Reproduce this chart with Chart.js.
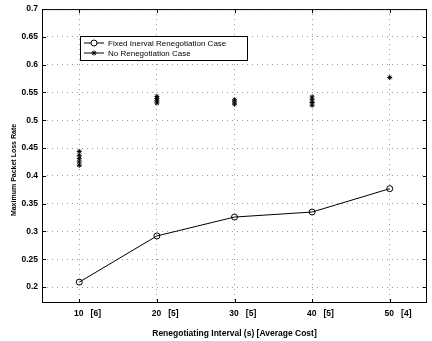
<!DOCTYPE html>
<html>
<head>
<meta charset="utf-8">
<script src="https://cdn.jsdelivr.net/npm/chart.js"></script>
<style>
  html, body { margin: 0; padding: 0; background: #fff; }
  #wrap { width: 432px; height: 341px; position: relative; }
</style>
</head>
<body>
<div id="wrap"><canvas id="chart"></canvas></div>
<script>
// intervals (s) and average cost shown next to each tick
const intervals = [10, 20, 30, 40, 50];
const avgCost = [6, 5, 5, 5, 4];
const yTicks = [0.2, 0.25, 0.3, 0.35, 0.4, 0.45, 0.5, 0.55, 0.6, 0.65, 0.7];

// Fixed interval renegotiation case
const fixedLoss = [0.209, 0.292, 0.326, 0.335, 0.377];

// No renegotiation case (several runs per interval)
const noRenegX = [10, 10, 10, 10, 10, 20, 20, 20, 20, 30, 30, 30, 40, 40, 40, 40, 50];
const noRenegY = [0.419, 0.425, 0.431, 0.437, 0.444, 0.531, 0.535, 0.539, 0.543,
                  0.529, 0.533, 0.537, 0.527, 0.532, 0.537, 0.542, 0.577];

const legendLabels = ['Fixed Inerval Renegotiation Case', 'No Renegotiation Case'];
const yTitle = 'Maximum Packet Loss Rate';

const FONT = '"Liberation Sans", Arial, sans-serif';

// box, inward ticks, y title and legend drawn like the original figure
const framePlugin = {
  id: 'frame',
  afterDraw(chart) {
    const { ctx, chartArea: a, scales } = chart;
    ctx.save();
    ctx.strokeStyle = '#000';
    ctx.lineWidth = 1;
    ctx.strokeRect(a.left + 0.5, a.top + 0.5, a.right - a.left - 1, a.bottom - a.top - 1);
    ctx.beginPath();
    intervals.forEach(v => {
      const x = Math.round(scales.x.getPixelForValue(v)) + 0.5;
      ctx.moveTo(x, a.bottom); ctx.lineTo(x, a.bottom - 4);
      ctx.moveTo(x, a.top); ctx.lineTo(x, a.top + 4);
    });
    yTicks.forEach(v => {
      const y = Math.round(scales.y.getPixelForValue(v)) + 0.5;
      ctx.moveTo(a.left, y); ctx.lineTo(a.left + 4, y);
      ctx.moveTo(a.right, y); ctx.lineTo(a.right - 4, y);
    });
    ctx.stroke();

    // y axis title
    ctx.save();
    ctx.translate(14, 170);
    ctx.rotate(-Math.PI / 2);
    ctx.fillStyle = '#000';
    ctx.font = 'bold 7px ' + FONT;
    ctx.textAlign = 'center';
    ctx.textBaseline = 'middle';
    ctx.fillText(yTitle, 0, 0);
    ctx.restore();

    // legend
    const lx = 80, ly = 36, lw = 167, lh = 24;
    ctx.fillStyle = '#fff';
    ctx.fillRect(lx, ly, lw, lh);
    ctx.strokeRect(lx + 0.5, ly + 0.5, lw, lh);
    ctx.font = '8px ' + FONT;
    ctx.textBaseline = 'middle';
    ctx.textAlign = 'left';
    chart.data.datasets.forEach((ds, i) => {
      const y = ly + 7 + i * 10;
      ctx.beginPath();
      ctx.moveTo(lx + 4, y); ctx.lineTo(lx + 24, y);
      ctx.stroke();
      Chart.helpers.drawPoint(ctx, {
        pointStyle: ds.pointStyle, radius: i === 0 ? 3 : 2.5, borderWidth: 1
      }, lx + 14, y);
      ctx.fillStyle = '#000';
      ctx.fillText(legendLabels[i], lx + 28, y + 0.5);
      ctx.fillStyle = '#fff';
    });
    ctx.restore();
  }
};

new Chart(document.getElementById('chart'), {
  type: 'scatter',
  data: {
    datasets: [
      {
        label: legendLabels[0],
        data: intervals.map((x, i) => ({ x, y: fixedLoss[i] })),
        showLine: true,
        borderColor: '#000',
        borderWidth: 1,
        pointStyle: 'circle',
        pointRadius: 3,
        pointBackgroundColor: 'rgba(255,255,255,0)',
        pointBorderColor: '#000',
        pointBorderWidth: 1
      },
      {
        label: legendLabels[1],
        data: noRenegX.map((x, i) => ({ x, y: noRenegY[i] })),
        showLine: false,
        borderColor: '#000',
        pointStyle: 'star',
        pointRadius: 2.5,
        pointBorderColor: '#000',
        pointBorderWidth: 1
      }
    ]
  },
  options: {
    responsive: true,
    maintainAspectRatio: false,
    animation: false,
    layout: { padding: { top: 7, right: 2, left: 0, bottom: 0 } },
    plugins: { legend: { display: false }, tooltip: { enabled: false } },
    scales: {
      x: {
        type: 'linear',
        min: 5.2,
        max: 54.8,
        afterBuildTicks: axis => { axis.ticks = intervals.map(v => ({ value: v })); },
        afterFit: axis => { axis.height = 38; },
        grid: { color: '#999', drawTicks: false, lineWidth: 1 },
        border: { display: false, dash: [1, 4] },
        ticks: {
          color: '#000',
          font: { family: FONT, size: 8.5, weight: 'bold' },
          padding: 6,
          maxRotation: 0,
          callback: v => {
            const i = intervals.indexOf(v);
            return '       ' + v + '   [' + avgCost[i] + ']';
          }
        },
        title: {
          display: true,
          text: 'Renegotiating Interval (s) [Average Cost]',
          color: '#000',
          font: { family: FONT, size: 8.5, weight: 'bold' },
          padding: { top: 0, bottom: 2 }
        }
      },
      y: {
        min: 0.1714,
        max: 0.7,
        afterBuildTicks: axis => { axis.ticks = yTicks.map(v => ({ value: v })); },
        afterFit: axis => { axis.width = 42; },
        grid: { color: '#999', drawTicks: false, lineWidth: 1 },
        border: { display: false, dash: [1, 4] },
        ticks: {
          color: '#000',
          font: { family: FONT, size: 8.5, weight: 'bold' },
          padding: 4,
          callback: v => String(Math.round(v * 100) / 100)
        }
      }
    }
  },
  plugins: [framePlugin]
});
</script>
</body>
</html>
